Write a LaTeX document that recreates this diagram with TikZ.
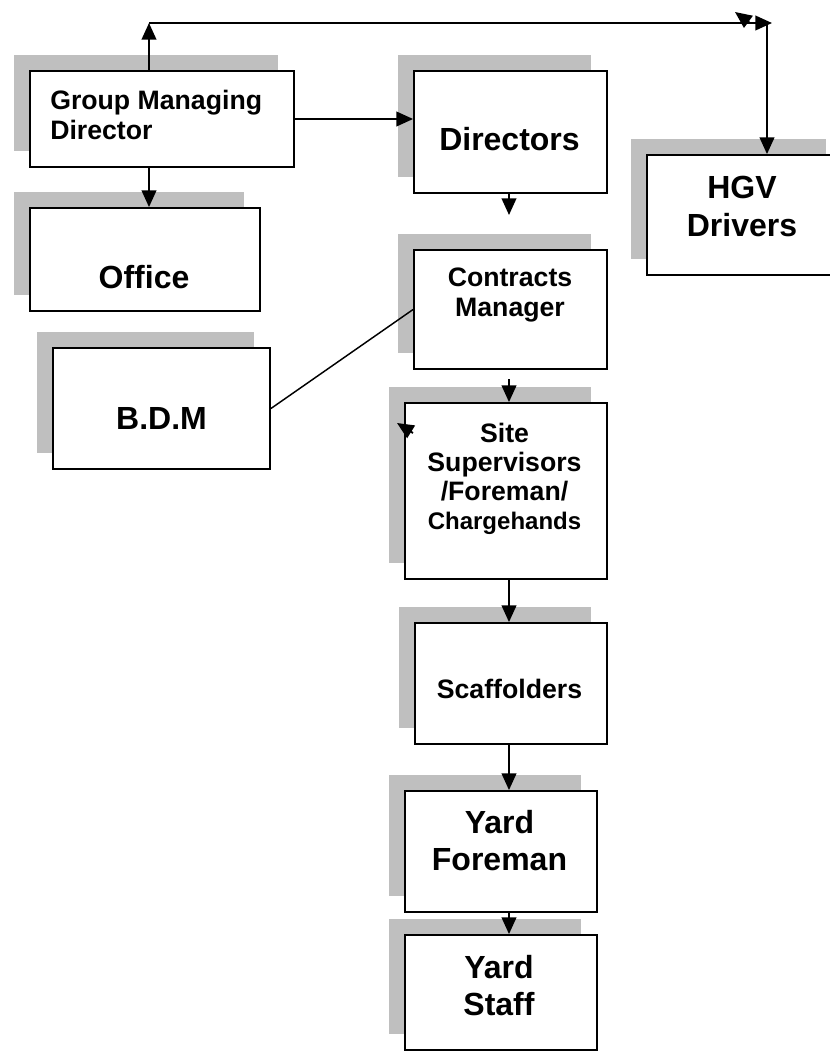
\documentclass[tikz,border=0pt]{standalone}
\usepackage{fontspec}
\setmainfont{Liberation Sans}
\usetikzlibrary{shadows, arrows.meta}
\tikzset{
  orgbox/.style={
    rectangle,
    draw=black,
    line width=1.4pt,
    fill=white,
    inner sep=0pt,
    general shadow={fill=black!25, shadow xshift=-12pt, shadow yshift=12pt}
  }
}
\tikzset{
  bigtext/.style={
    align=center,
    inner sep=0pt,
    font=\bfseries\fontsize{24pt}{28.5pt}\selectfont
  }
}
\tikzset{
  smalltext/.style={
    align=center,
    inner sep=0pt,
    font=\bfseries\fontsize{20pt}{22.5pt}\selectfont
  }
}
\tikzstyle{arrow} = [-{Triangle[length=12.5pt,width=11pt]}, line width=1.4pt]
\def\smallword#1{{\fontsize{18pt}{21.75pt}\selectfont #1}}

\begin{document}
\begin{tikzpicture}[x=0.75pt, y=-0.75pt]
    \useasboundingbox (0,0) rectangle (830,1054);
    % boxes
    \node[orgbox, minimum width=198pt, minimum height=72pt] (gmd) at (162,119) {};
    \node[orgbox, minimum width=144.75pt, minimum height=91.5pt] (dirs) at (510.5,132) {};
    \node[orgbox, minimum width=146.25pt, minimum height=90pt] (hgv) at (744.5,215) {};
    \node[orgbox, minimum width=172.5pt, minimum height=77.25pt] (office) at (145,259.5) {};
    \node[orgbox, minimum width=162.75pt, minimum height=90.75pt] (bdm) at (161.5,408.5) {};
    \node[orgbox, minimum width=144.75pt, minimum height=89.25pt] (contracts) at (510.5,309.5) {};
    \node[orgbox, minimum width=151.5pt, minimum height=132pt] (site) at (506,491) {};
    \node[orgbox, minimum width=144pt, minimum height=90.75pt] (scaff) at (511,683.5) {};
    \node[orgbox, minimum width=144pt, minimum height=90.75pt] (yfore) at (501,851.5) {};
    \node[orgbox, minimum width=144pt, minimum height=86.25pt] (ystaff) at (501,992.5) {};
    % texts
    \node[smalltext, align=left, anchor=west] (gmd-t) at (50,115) {Group Managing\\Director};
    \node[bigtext] (dirs-t) at (509.5,139) {Directors};
    \node[bigtext] (hgv-t) at (742,206) {HGV\\Drivers};
    \node[bigtext] (office-t) at (144,277) {Office};
    \node[bigtext] (bdm-t) at (161.5,418) {B.D.M};
    \node[smalltext] (contracts-t) at (510,295) {Contracts\\Manager};
    \node[smalltext, font=\bfseries\fontsize{20pt}{21.75pt}\selectfont] (site-t) at (504.5,479) {Site\\Supervisors\\/Foreman/\\\smallword{Chargehands}};
    \node[smalltext] (scaff-t) at (509.5,689) {Scaffolders};
    \node[bigtext, font=\bfseries\fontsize{24pt}{27.75pt}\selectfont] (yfore-t) at (499.5,841) {Yard\\Foreman};
    \node[bigtext, font=\bfseries\fontsize{24pt}{27.75pt}\selectfont] (ystaff-t) at (499,986) {Yard\\Staff};
    % connectors
    \coordinate (topL) at (149,23);
    \coordinate (topR) at (772,23);
    \coordinate (hgvtop) at (767,23);
    \coordinate (spine) at (509,0);
    \coordinate (dirsgap) at (509,215);
    \coordinate (cmgap) at (509,379);
    \draw[arrow] (topL |- gmd.north) -- (topL);
    \draw[arrow] (topL) -- (topR);
    \draw[arrow] (hgvtop) -- (hgvtop |- hgv.north);
    \draw[arrow] (gmd.east) -- (gmd.east -| dirs.west);
    \draw[arrow] (topL |- gmd.south) -- (topL |- office.north);
    \draw[arrow] (spine |- dirs.south) -- (dirsgap);
    \draw[line width=1.1pt] (bdm.east) -- (contracts.west);
    \draw[arrow] (cmgap) -- (spine |- site.north);
    \draw[arrow] (spine |- site.south) -- (spine |- scaff.north);
    \draw[arrow] (spine |- scaff.south) -- (spine |- yfore.north);
    \draw[arrow] (spine |- yfore.south) -- (spine |- ystaff.north);
    % loose arrowheads
    \coordinate (loose1a) at (750,23);
    \coordinate (loose1b) at (735,12);
    \coordinate (loose2a) at (413,433);
    \coordinate (loose2b) at (397,423);
    \draw[arrow] (loose1a) -- (loose1b);
    \draw[arrow] (loose2a) -- (loose2b);
\end{tikzpicture}
\end{document}
